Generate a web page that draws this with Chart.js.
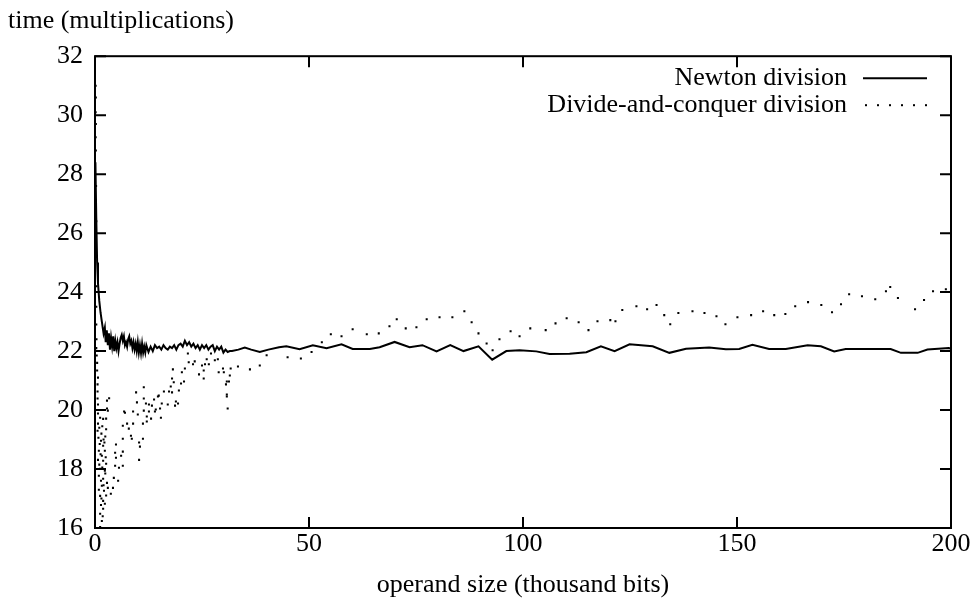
<!DOCTYPE html>
<html>
<head>
<meta charset="utf-8">
<script src="https://cdn.jsdelivr.net/npm/chart.js@4.4.1/dist/chart.umd.min.js"></script>
<style>
  html, body { margin: 0; padding: 0; background: #fff; }
  #wrap { width: 975px; height: 610px; }
</style>
</head>
<body>
<div id="wrap"><canvas id="divChart"></canvas></div>
<script>
// axis ticks
const xTicks = [0, 50, 100, 150, 200];
const yTicks = [16, 18, 20, 22, 24, 26, 28, 30, 32];

// Newton division (thousand bits, multiplications)
const newtonX = [0.1, 0.3, 0.5, 0.7, 1.0, 1.3, 1.6, 2.0, 2.3,
  2.5, 2.75, 3.0, 3.25, 3.5, 3.75, 4.0, 4.25, 4.5, 4.75, 5.0, 5.25, 5.5, 5.75, 6.0, 6.25,
  6.5, 6.75, 7.0, 7.25, 7.5, 7.75, 8.0, 8.25, 8.5, 8.75, 9.0, 9.25, 9.5, 9.75, 10.0, 10.25,
  10.5, 10.75, 11.0, 11.25, 11.5, 11.75, 12.0,
  12.5, 13.0, 13.5, 14.0, 14.5, 15.0, 15.5, 16.0, 16.5, 17.0, 17.5,
  18.0, 18.5, 19.0, 19.5, 20.0, 20.5, 21.0, 21.5, 22.0, 22.5, 23.0, 23.5, 24.0, 24.5, 25.0,
  25.5, 26.0, 26.5, 27.0, 27.5, 28.0, 28.5, 29.0, 29.5, 30.0, 30.5, 31.0, 31.5, 32.0,
  33.5, 35, 36.5, 38.5, 40.5, 43, 44.7, 47.8, 50.9, 54.1, 57.6, 60.2, 64.2, 66.5, 70,
  73.5, 76.5, 79.8, 83, 86.1, 89.6, 92.8, 96.1, 99.2, 103.1, 106.2, 110.9, 114.8, 118.2,
  121.4, 124.9, 130.3, 134.2, 138.1, 143.5, 147.4, 150.5, 153.6, 157.5, 161.4, 166.5,
  169.6, 172.7, 175.4, 185.9, 188.3, 192.2, 194.5, 199.5, 200];
const newtonY = [28.4, 26.5, 25.0, 24.3, 23.7, 23.3, 23.0, 22.6, 22.8,
  22.3, 22.7, 22.2, 22.6, 22.05, 22.45, 22.15, 22.5, 22.0, 22.35, 22.1, 22.3, 22.0, 22.25, 22.45, 22.55,
  22.35, 22.5, 22.2, 22.3, 22.15, 22.4, 22.5, 22.25, 22.35, 22.1, 22.3, 22.05, 22.25, 22.0, 22.3, 21.95,
  22.2, 21.93, 22.25, 21.95, 22.15, 21.95, 22.2,
  21.97, 22.15, 22.0, 22.2, 22.1, 22.15, 22.05, 22.2, 22.1, 22.05, 22.15,
  22.1, 22.2, 22.05, 22.2, 22.25, 22.15, 22.35, 22.2, 22.3, 22.15, 22.25, 22.1, 22.2, 22.05, 22.2,
  22.1, 22.2, 22.05, 22.15, 22.2, 22.0, 22.15, 22.05, 22.15, 21.95, 22.05, 21.97, 22.0, 22.0,
  22.05, 22.12, 22.05, 21.97, 22.05, 22.13, 22.16, 22.06, 22.2, 22.1, 22.23, 22.07, 22.07, 22.13, 22.31,
  22.13, 22.2, 21.99, 22.2, 22.0, 22.16, 21.71, 22.0, 22.03, 21.99, 21.9, 21.91, 21.96, 22.16,
  22.0, 22.23, 22.16, 21.94, 22.08, 22.12, 22.06, 22.07, 22.21, 22.07, 22.07, 22.2,
  22.16, 21.99, 22.07, 22.07, 21.94, 21.94, 22.05, 22.1, 22.08];

// Divide-and-conquer division
const dcX = [0.15, 0.2, 0.15, 0.2, 0.15, 0.2, 0.25, 0.3, 0.3, 0.35, 0.3, 0.3, 0.35, 0.3, 0.4,
  0.5, 0.5, 0.7, 0.6, 0.6, 0.6, 0.7, 0.7, 1.2, 0.7, 0.6, 0.8, 1.4, 1.9, 0.9, 2.3, 1.6, 0.7, 1.9, 2.6,
  1.2, 2.3, 0.9, 1.9, 2.8, 1.6, 2.1, 3.7, 1.2, 1.9, 2.3, 1.9, 1.2, 1.6, 1.2, 3.0, 4.2, 4.4, 5.4,
  1.0, 1.5, 2.0, 1.1, 2.2, 1.3, 2.5, 1.0, 1.7, 2.4, 1.4, 2.0, 0.9, 1.5, 2.6, 1.8, 1.4, 2.4, 1.7,
  2.6, 1.9, 2.8, 2.8, 2.6, 3.0, 3.3,
  4.9, 4.7, 4.9, 4.7, 5.6, 6.5, 6.1, 6.5, 6.5, 6.5, 7.0, 6.8, 7.5, 7.9, 8.4, 8.6, 8.9, 8.9,
  9.6, 9.8, 10.0, 10.3, 10.5, 10.3, 11.2, 11.2, 11.4, 11.4, 11.4, 11.9, 12.6, 12.1, 12.1, 12.6,
  13.1, 13.8, 13.3, 14.0, 14.2, 14.7, 14.9, 15.2, 15.4, 15.6, 16.1, 17.0, 17.3, 17.7, 18.0, 18.0,
  18.2, 18.4, 18.7, 18.9, 19.4, 19.6, 20.1, 20.3, 20.8, 21.0, 21.7, 21.9, 22.9, 23.3, 24.3, 25.0,
  25.4, 25.4, 25.7, 26.1, 26.6, 27.1, 28.0, 28.7, 28.9, 29.9, 30.1, 30.6, 30.8, 30.8, 30.8, 31.0,
  31.3, 31.5, 31.7, 33.4, 36.2, 38.5, 40.1,
  45.0, 48.1, 50.6, 53.0, 55.1, 57.6, 60.2, 63.5, 66.3, 68.8, 70.5, 72.6, 75.1, 77.5, 80.5, 83.5,
  86.3, 88.0, 89.6, 91.5, 92.9, 94.5, 97.1, 99.2, 101.7, 105.3, 107.6, 110.2, 113.0, 115.3, 117.4,
  120.4, 121.6, 123.2, 126.5, 129.0, 131.2, 133.0, 134.4, 136.3, 139.6, 142.4, 145.2, 147.3, 150.1,
  153.3, 156.1, 158.7, 161.3, 163.6, 166.6, 169.7, 172.2, 174.3, 176.2, 179.2, 182.3, 184.8, 185.8,
  187.6, 191.6, 193.7, 195.8, 198.8];
const dcY = [31.0, 30.6, 30.1, 29.7, 29.25, 28.8, 27.6, 26.4, 25.2, 24.2, 23.5, 22.9, 22.4, 22.1, 21.85,
  21.6, 21.34, 21.1, 20.87, 20.63, 20.39, 20.19, 19.88, 19.74, 19.54, 19.3, 19.06, 18.96, 18.79, 18.62, 18.62, 18.45, 18.31, 18.28, 18.18,
  18.01, 17.94, 17.77, 17.67, 17.53, 17.43, 17.26, 17.16, 17.09, 16.92, 16.82, 16.65, 16.48, 16.24, 16.03, 17.36, 17.36, 17.7, 17.6,
  19.4, 19.2, 19.0, 18.85, 18.9, 18.5, 18.4, 18.15, 18.05, 17.85, 17.6, 17.45, 17.3, 17.0, 17.1, 16.4, 16.78, 19.1, 19.45,
  19.35, 19.7, 20.32, 20.05, 19.71, 19.98, 20.4,
  18.83, 18.55, 18.38, 18.11, 18.04, 18.11, 18.45, 18.59, 19.03, 19.47, 19.91, 19.95, 19.54, 19.37, 19.13, 19.03, 19.54, 19.95,
  20.6, 20.26, 19.85, 18.9, 18.76, 18.31, 19.03, 19.54, 20.77, 20.39, 19.98, 20.22, 20.19, 19.78, 19.61, 19.95,
  19.71, 20.36, 20.15, 19.95, 20.02, 20.46, 20.49, 20.05, 19.74, 20.22, 20.63, 20.19, 20.63, 20.8, 20.6, 21.07,
  21.38, 20.94, 20.15, 20.29, 20.22, 20.66, 20.9, 21.28, 20.97, 21.41, 21.92, 21.62, 21.55, 21.65, 21.21, 21.51,
  21.34, 21.07, 21.55, 21.72, 21.55, 21.92, 21.69, 21.72, 21.28, 21.41, 21.28, 20.87, 20.97, 20.53, 20.46, 20.05,
  20.97, 21.17, 21.41, 21.48, 21.38, 21.51, 21.86,
  21.79, 21.75, 21.97, 22.3, 22.57, 22.5, 22.74, 22.57, 22.6, 22.84, 23.08, 22.77, 22.81, 23.08, 23.15, 23.15,
  23.35, 22.98, 22.6, 22.26, 22.03, 22.4, 22.67, 22.5, 22.77, 22.71, 22.94, 23.11, 22.98, 22.71, 23.01,
  23.05, 23.01, 23.39, 23.52, 23.42, 23.56, 23.22, 22.91, 23.29, 23.35, 23.29, 23.18, 22.91, 23.15,
  23.22, 23.35, 23.22, 23.26, 23.52, 23.66, 23.56, 23.32, 23.59, 23.93, 23.86, 23.76, 24.03, 24.17,
  23.8, 23.42, 23.73, 24.03, 24.1];

const seriesNames = ['Newton division', 'Divide-and-conquer division'];
const FONT = 'Liberation Serif';
const FSIZE = 26;

// gnuplot-style frame, inward ticks on all four sides, and legend with line samples on the right
const gnuplotFrame = {
  id: 'gnuplotFrame',
  afterDraw(chart) {
    const {ctx, chartArea: a, scales: {x, y}} = chart;
    const tl = 11;
    ctx.save();
    ctx.strokeStyle = '#000';
    ctx.lineWidth = 2;
    ctx.strokeRect(a.left, a.top, a.right - a.left, a.bottom - a.top);
    ctx.beginPath();
    xTicks.forEach(v => {
      const px = x.getPixelForValue(v);
      ctx.moveTo(px, a.bottom); ctx.lineTo(px, a.bottom - tl);
      ctx.moveTo(px, a.top); ctx.lineTo(px, a.top + tl);
    });
    yTicks.forEach(v => {
      const py = y.getPixelForValue(v);
      ctx.moveTo(a.left, py); ctx.lineTo(a.left + tl, py);
      ctx.moveTo(a.right, py); ctx.lineTo(a.right - tl, py);
    });
    ctx.stroke();

    // legend
    const textRight = a.right - 104;
    const sampleL = a.right - 88, sampleR = a.right - 24;
    const row1 = a.top + 22, row2 = a.top + 49;
    ctx.font = FSIZE + 'px "' + FONT + '"';
    ctx.fillStyle = '#000';
    ctx.textAlign = 'right';
    ctx.textBaseline = 'middle';
    ctx.fillText(seriesNames[0], textRight, row1);
    ctx.fillText(seriesNames[1], textRight, row2);
    ctx.beginPath();
    ctx.moveTo(sampleL, row1); ctx.lineTo(sampleR, row1);
    ctx.stroke();
    for (let px = sampleL + 3; px <= sampleR; px += 12) {
      ctx.fillRect(px - 1, row2 - 1, 2, 2);
    }
    ctx.restore();
  }
};

new Chart(document.getElementById('divChart'), {
  type: 'scatter',
  data: {
    datasets: [{
      label: seriesNames[0],
      data: newtonX.map((v, i) => ({x: v, y: newtonY[i]})),
      showLine: true,
      borderColor: '#000',
      borderWidth: 2,
      pointRadius: 0,
      tension: 0
    }, {
      label: seriesNames[1],
      data: dcX.map((v, i) => ({x: v, y: dcY[i]})),
      showLine: false,
      pointStyle: 'rect',
      pointRadius: 1.45,
      borderWidth: 0,
      backgroundColor: '#000'
    }]
  },
  options: {
    responsive: true,
    maintainAspectRatio: false,
    animation: false,
    layout: {padding: {left: 8, right: 24, top: 0, bottom: 0}},
    plugins: {
      legend: {display: false},
      tooltip: {enabled: false},
      title: {
        display: true,
        text: 'time (multiplications)',
        align: 'start',
        color: '#000',
        font: {family: FONT, size: FSIZE, weight: 'normal'},
        padding: {top: 6, bottom: 19}
      }
    },
    scales: {
      x: {
        type: 'linear',
        min: 0, max: 200,
        afterBuildTicks: s => { s.ticks = xTicks.map(v => ({value: v})); },
        afterFit: s => { s.height = 82; },
        grid: {display: false, drawTicks: false},
        border: {display: false},
        ticks: {color: '#000', padding: 1, font: {family: FONT, size: FSIZE}},
        title: {
          display: true,
          text: 'operand size (thousand bits)',
          color: '#000',
          font: {family: FONT, size: FSIZE},
          padding: {top: 0, bottom: 9}
        }
      },
      y: {
        type: 'linear',
        min: 16, max: 32,
        afterBuildTicks: s => { s.ticks = yTicks.map(v => ({value: v})); },
        afterFit: s => { s.width = 87; },
        grid: {display: false, drawTicks: false},
        border: {display: false},
        ticks: {color: '#000', padding: 12, font: {family: FONT, size: FSIZE}}
      }
    }
  },
  plugins: [gnuplotFrame]
});
</script>
</body>
</html>
